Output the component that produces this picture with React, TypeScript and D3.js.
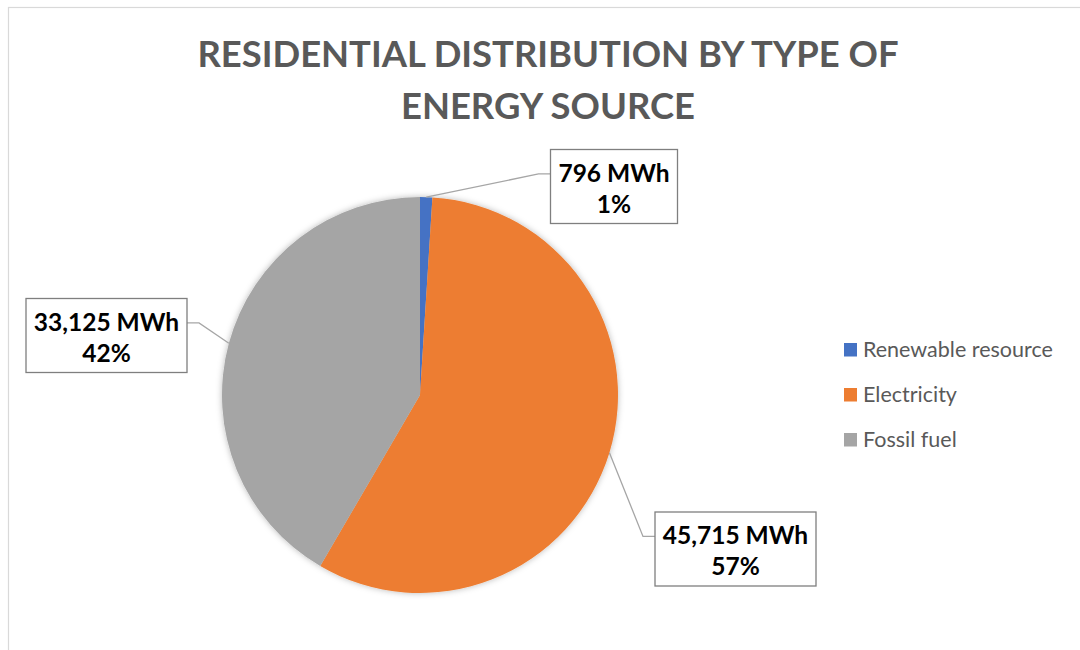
import React, { useEffect, useRef } from "react";
import * as d3 from "d3";

// Residential energy use, by source (MWh)
const categories: string[] = ["Renewable resource", "Electricity", "Fossil fuel"];
const values: number[] = [796, 45715, 33125];
const colors: string[] = ["#4472C4", "#ED7D31", "#A5A5A5"];
const titleLines: string[] = ["RESIDENTIAL DISTRIBUTION BY TYPE OF", "ENERGY SOURCE"];

// Data-label callout boxes: centre of each box (layout only)
const labelCenters: [number, number][] = [
  [614, 186.5],
  [735.5, 549],
  [106.5, 335.5],
];

const W = 1080;
const H = 650;
const FONT = "Lato, 'Open Sans', sans-serif";

export default function App() {
  const ref = useRef<SVGSVGElement | null>(null);

  useEffect(() => {
    const svg = d3.select(ref.current);
    svg.selectAll("*").remove();

    // Chart frame (runs off the right and bottom of the view)
    svg
      .append("rect")
      .attr("x", 8.5)
      .attr("y", 7.5)
      .attr("width", W + 50)
      .attr("height", H + 50)
      .attr("fill", "#ffffff")
      .attr("stroke", "#d9d9d9")
      .attr("stroke-width", 1.2);

    const defs = svg.append("defs");
    const f = defs
      .append("filter")
      .attr("id", "pieShadow")
      .attr("x", "-10%")
      .attr("y", "-10%")
      .attr("width", "120%")
      .attr("height", "120%");
    f.append("feDropShadow")
      .attr("dx", 0)
      .attr("dy", 0)
      .attr("stdDeviation", 3)
      .attr("flood-color", "#000")
      .attr("flood-opacity", 0.28);

    // Title
    const title = svg
      .append("text")
      .attr("text-anchor", "middle")
      .attr("font-family", FONT)
      .attr("font-weight", 700)
      .attr("font-size", 36.4)
      .attr("fill", "#595959");
    titleLines.forEach((line, i) => {
      title
        .append("tspan")
        .attr("x", 548)
        .attr("y", 67 + i * 52)
        .text(line);
    });

    const cx = 420;
    const cy = 395;
    const r = 198;
    const total = d3.sum(values);

    const pie = d3
      .pie<number>()
      .sort(null)
      .value((d) => d);
    const arcs = pie(values);
    const arc = d3.arc<d3.PieArcDatum<number>>().innerRadius(0).outerRadius(r);

    const g = svg.append("g").attr("transform", `translate(${cx},${cy})`);
    g.append("g")
      .attr("filter", "url(#pieShadow)")
      .selectAll("path")
      .data(arcs)
      .join("path")
      .attr("d", arc)
      .attr("fill", (_, i) => colors[i]);

    // Data labels with leader lines
    const fmtNum = d3.format(",");
    const fmtPct = d3.format(".0%");
    const labels = svg.append("g");

    arcs.forEach((a, i) => {
      const [bx, by] = labelCenters[i];
      const lg = labels.append("g");
      const t = lg
        .append("text")
        .attr("text-anchor", "middle")
        .attr("font-family", FONT)
        .attr("font-weight", 700)
        .attr("font-size", 24.5)
        .attr("fill", "#000");
      t.append("tspan")
        .attr("x", bx)
        .attr("y", by - 5)
        .text(`${fmtNum(values[i])} MWh`);
      t.append("tspan")
        .attr("x", bx)
        .attr("y", by + 26)
        .text(fmtPct(values[i] / total));

      const tw = (t.node() as SVGTextElement).getBBox().width;
      const bw = Math.round(tw + 16);
      const bh = 74;
      const left = bx - bw / 2;
      const top = by - bh / 2;

      lg.insert("rect", "text")
        .attr("x", left)
        .attr("y", top)
        .attr("width", bw)
        .attr("height", bh)
        .attr("fill", "#ffffff")
        .attr("stroke", "#7f7f7f")
        .attr("stroke-width", 1.3);

      // leader: from slice mid-angle on the rim, to an elbow, to the box side
      const mid = (a.startAngle + a.endAngle) / 2;
      const px = cx + r * Math.sin(mid);
      const py = cy - r * Math.cos(mid);
      const boxOnRight = bx > px;
      const sideX = boxOnRight ? left : left + bw;
      const attachY = top + bh * 0.33;
      const elbowX = boxOnRight ? sideX - 12 : sideX + 12;
      labels
        .insert("path", "g")
        .attr("d", d3.line()([[px, py], [elbowX, attachY], [sideX, attachY]]))
        .attr("fill", "none")
        .attr("stroke", "#a6a6a6")
        .attr("stroke-width", 1.3);
    });

    // Legend
    const legend = svg.append("g").attr("transform", "translate(844,343)");
    categories.forEach((c, i) => {
      const row = legend.append("g").attr("transform", `translate(0,${i * 45})`);
      row.append("rect").attr("width", 13).attr("height", 13.5).attr("fill", colors[i]);
      row
        .append("text")
        .attr("x", 19)
        .attr("y", 14)
        .attr("font-family", FONT)
        .attr("font-size", 21.5)
        .attr("fill", "#595959")
        .text(c);
    });
  }, []);

  return (
    <svg
      ref={ref}
      width={W}
      height={H}
      style={{ position: "absolute", left: 0, top: 0, background: "#fff" }}
    />
  );
}
